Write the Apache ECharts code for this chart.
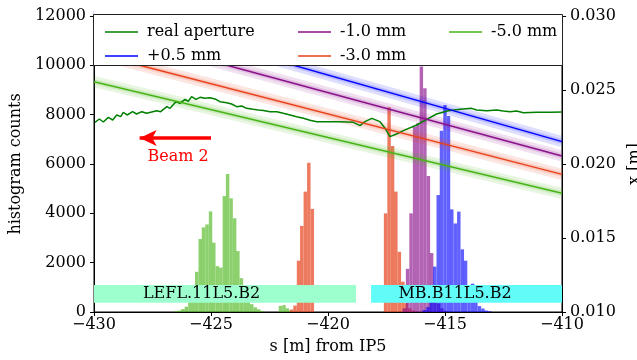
<!DOCTYPE html>
<html>
<head>
<meta charset="utf-8">
<script src="https://cdn.jsdelivr.net/npm/echarts@6/dist/echarts.min.js"></script>
<style>
  html, body { margin: 0; padding: 0; background: #fff; }
  #chart { width: 637px; height: 360px; }
</style>
</head>
<body>
<div id="chart"></div>
<script>
// 直方图数据 [s, counts]
const BIN = 0.147;
const histGreen = [
  [-426.49, 30], [-426.35, 60], [-426.20, 120], [-426.05, 215], [-425.90, 420], [-425.76, 900],
  [-425.61, 1630], [-425.46, 2960], [-425.32, 3430], [-425.17, 3550], [-425.02, 4080], [-424.88, 2810],
  [-424.73, 1860], [-424.58, 1800], [-424.43, 4700], [-424.29, 5590], [-424.14, 4610], [-423.99, 3800],
  [-423.85, 2470], [-423.70, 1370], [-423.55, 900], [-423.41, 550], [-423.26, 320], [-423.11, 190],
  [-422.96, 110], [-422.82, 40],
  [-422.03, 250], [-421.88, 280], [-421.74, 150], [-421.59, 50]
];
const histRed = [
  [-421.56, 100], [-421.41, 260], [-421.26, 2080], [-421.12, 3490], [-420.97, 4880], [-420.82, 6050], [-420.67, 4180],
  [-417.54, 4000], [-417.39, 8300], [-417.24, 6730], [-417.10, 4880], [-416.95, 2440], [-416.80, 1230],
  [-416.66, 360], [-416.51, 150], [-416.36, 60]
];
const histPurple = [
  [-416.74, 150], [-416.60, 1750], [-416.45, 4000], [-416.30, 7510], [-416.16, 7650], [-416.01, 9950],
  [-415.86, 9070], [-415.71, 5510], [-415.57, 2390], [-415.42, 1000], [-415.27, 350], [-415.13, 150], [-414.98, 50]
];
const histBlue = [
  [-415.88, 80], [-415.73, 200], [-415.59, 500], [-415.44, 1840], [-415.29, 4740], [-415.15, 7350],
  [-415.00, 8390], [-414.85, 7950], [-414.71, 4160], [-414.56, 3590], [-414.41, 4070], [-414.26, 2540],
  [-414.12, 2080], [-413.97, 1000], [-413.82, 1150], [-413.68, 600], [-413.53, 240], [-413.38, 140],
  [-413.24, 60], [-413.09, 30]
];

// 实际孔径 [s, x]
const realAperture = [
  [-429.96, 0.022818], [-429.77, 0.023041], [-429.60, 0.022838], [-429.39, 0.023153], [-429.20, 0.022973],
  [-429.03, 0.023311], [-428.86, 0.023198], [-428.75, 0.023491], [-428.58, 0.023311], [-428.35, 0.023536],
  [-428.18, 0.023378], [-427.96, 0.023536], [-427.75, 0.023424], [-427.49, 0.023536], [-427.32, 0.023603],
  [-427.15, 0.023536], [-426.89, 0.023874], [-426.75, 0.023761], [-426.50, 0.024212], [-426.33, 0.024099],
  [-426.11, 0.024369], [-425.97, 0.024234], [-425.83, 0.024549], [-425.64, 0.024369], [-425.47, 0.024505],
  [-425.26, 0.024437], [-425.04, 0.024482], [-424.79, 0.024369], [-424.62, 0.024212], [-424.33, 0.024144],
  [-424.12, 0.024054], [-423.90, 0.023874], [-423.69, 0.023919], [-423.48, 0.023761], [-423.19, 0.023694],
  [-422.98, 0.023649], [-422.76, 0.023620], [-422.48, 0.023536], [-422.19, 0.023536], [-421.91, 0.023424],
  [-421.62, 0.023311], [-421.34, 0.023198], [-421.05, 0.023086], [-420.77, 0.022951], [-420.48, 0.022860],
  [-419.92, 0.022860], [-419.49, 0.022860], [-418.92, 0.022816], [-418.63, 0.022590], [-418.42, 0.022860],
  [-418.13, 0.023086], [-417.78, 0.022860], [-417.56, 0.022410], [-417.35, 0.021847], [-417.07, 0.022027],
  [-416.78, 0.022252], [-416.21, 0.022635], [-415.78, 0.023018], [-415.36, 0.023378], [-414.86, 0.023603],
  [-414.36, 0.023694], [-413.86, 0.023761], [-413.65, 0.023649], [-413.22, 0.023603], [-412.79, 0.023649],
  [-412.51, 0.023581], [-412.22, 0.023536], [-411.94, 0.023581], [-411.65, 0.023468], [-411.08, 0.023491],
  [-410.51, 0.023491], [-410.01, 0.023514]
];

// 偏移轨迹 [s, x]
const lineP05 = [[-430, 0.03051], [-410, 0.02151]];
const lineM10 = [[-430, 0.02911], [-410, 0.02054]];
const lineM30 = [[-430, 0.02746], [-410, 0.01930]];
const lineM50 = [[-430, 0.02556], [-410, 0.01802]];

// 元件区域
const elementNames = ['LEFL.11L5.B2', 'MB.B11L5.B2'];
const elementStart = [-430, -418.16];
const elementEnd = [-418.80, -410];
const elementLabelAt = [-425.4, -414.57];
const elementLow = 370;
const elementHigh = 1095;

// 束流方向
const beamArrow = [[-425.0, 7050], [-428.05, 7050]];
const beamText = [-426.41, 6270];

const FONT = 'DejaVu Serif';
const elementColors = ['#9dffce', '#62fcf8'];

function minus(v) {
    return String(v).replace('-', '\u2212');
}

function histSeries(name, bins, color) {
    return {
        type: 'custom',
        name: name,
        xAxisIndex: 0,
        yAxisIndex: 0,
        z: 2,
        data: bins,
        encode: { x: 0, y: 1 },
        renderItem: function (params, api) {
            const s = api.value(0);
            const c = api.value(1);
            const a = api.coord([s - BIN / 2, c]);
            const b = api.coord([s + BIN / 2, 0]);
            return {
                type: 'rect',
                shape: { x: a[0], y: a[1], width: b[0] - a[0], height: b[1] - a[1] },
                style: { fill: color }
            };
        }
    };
}

function bandSeries(data, color) {
    return [
        { type: 'line', yAxisIndex: 1, data: data, symbol: 'none', z: 3, silent: true,
          lineStyle: { color: color, width: 11, opacity: 0.13 } },
        { type: 'line', yAxisIndex: 1, data: data, symbol: 'none', z: 3, silent: true,
          lineStyle: { color: color, width: 5, opacity: 0.15 } }
    ];
}

function lineSeries(name, data, color) {
    return { type: 'line', name: name, yAxisIndex: 1, data: data, symbol: 'none', z: 4,
             lineStyle: { color: color, width: 1.5 }, itemStyle: { color: color } };
}

const chart = echarts.init(document.getElementById('chart'));

const series = [
    histSeries('hist -5.0', histGreen, 'rgba(70,180,20,0.62)'),
    histSeries('hist -3.0', histRed, 'rgba(230,64,26,0.7)'),
    histSeries('hist -1.0', histPurple, 'rgba(139,16,139,0.65)'),
    histSeries('hist +0.5', histBlue, 'rgba(0,0,255,0.62)')
].concat(
    bandSeries(lineP05, '#0000ff'),
    bandSeries(lineM10, '#8b108b'),
    bandSeries(lineM30, '#e8401a'),
    bandSeries(lineM50, '#46b414')
).concat([
    lineSeries('real aperture', realAperture, '#008000'),
    lineSeries('+0.5 mm', lineP05, '#0000ff'),
    lineSeries('-1.0 mm', lineM10, '#8b108b'),
    lineSeries('-3.0 mm', lineM30, '#e8401a'),
    lineSeries('-5.0 mm', lineM50, '#46b414'),
    {
        type: 'line',
        name: 'annotations',
        yAxisIndex: 0,
        data: [],
        z: 6,
        silent: true,
        markArea: {
            silent: true,
            z: 5,
            data: elementNames.map((n, i) => [
                { xAxis: elementStart[i], yAxis: elementLow, itemStyle: { color: elementColors[i], opacity: 1 } },
                { xAxis: elementEnd[i], yAxis: elementHigh }
            ])
        },
        markPoint: {
            silent: true,
            z: 7,
            symbol: 'rect',
            symbolSize: 1,
            itemStyle: { color: 'rgba(0,0,0,0)' },
            label: { show: true, position: 'inside', fontFamily: FONT, fontSize: 16, color: '#000',
                     formatter: p => p.name },
            data: elementNames.map((n, i) => ({ name: n, coord: [elementLabelAt[i], (elementLow + elementHigh) / 2] }))
                .concat([{ name: 'Beam 2', coord: beamText, label: { color: '#ff0000' } }])
        },
        markLine: {
            silent: true,
            z: 7,
            symbol: ['none', 'arrow'],
            symbolSize: [12, 17],
            label: { show: false },
            lineStyle: { color: '#ff0000', width: 3.5, type: 'solid' },
            data: [[{ coord: beamArrow[0] }, { coord: beamArrow[1] }]]
        }
    }
]);

const legendCommon = {
    orient: 'vertical',
    top: 18,
    zlevel: 1,
    z: 20,
    icon: 'rect',
    itemWidth: 33,
    itemHeight: 1.5,
    itemGap: 6,
    textStyle: { fontFamily: FONT, fontSize: 16, color: '#000', lineHeight: 18, padding: [0, 0, 0, 4] }
};

const option = {
    animation: false,
    backgroundColor: '#fff',
    textStyle: { fontFamily: FONT },
    grid: { left: 94, right: 75, top: 16, bottom: 48, outerBoundsMode: 'none', containLabel: false,
            show: true, borderColor: '#000', borderWidth: 1 },
    legend: [
        Object.assign({ left: 100, data: ['real aperture', '+0.5 mm'] }, legendCommon),
        Object.assign({ left: 293, data: ['-1.0 mm', '-3.0 mm'] }, legendCommon),
        Object.assign({ left: 444, data: ['-5.0 mm'] }, legendCommon)
    ],
    graphic: [{
        // 遮住图框上方溢出的宽线
        type: 'rect',
        zlevel: 1,
        z: 9,
        shape: { x: 94.5, y: 0, width: 467, height: 15 },
        style: { fill: '#fff' }
    }, {
        type: 'rect',
        zlevel: 1,
        z: 10,
        shape: { x: 93.5, y: 14.5, width: 469, height: 51 },
        style: { fill: '#fff', stroke: '#222', lineWidth: 1 }
    }],
    xAxis: {
        type: 'value',
        min: -430,
        max: -410,
        interval: 5,
        name: 's [m] from IP5',
        nameLocation: 'middle',
        nameGap: 27,
        nameTextStyle: { fontFamily: FONT, fontSize: 16, color: '#000' },
        axisLine: { lineStyle: { color: '#000' } },
        axisTick: { length: 4, lineStyle: { color: '#000' } },
        axisLabel: { fontFamily: FONT, fontSize: 16, color: '#000', margin: 5, formatter: minus },
        splitLine: { show: false }
    },
    yAxis: [{
        type: 'value',
        min: 0,
        max: 12000,
        interval: 2000,
        name: 'histogram counts',
        nameLocation: 'middle',
        nameGap: 66,
        nameTextStyle: { fontFamily: FONT, fontSize: 16, color: '#000' },
        axisLine: { show: true, lineStyle: { color: '#000' } },
        axisTick: { show: true, length: 4, lineStyle: { color: '#000' } },
        axisLabel: { fontFamily: FONT, fontSize: 16, color: '#000', margin: 8, formatter: v => String(v) },
        splitLine: { show: false }
    }, {
        type: 'value',
        position: 'right',
        min: 0.010,
        max: 0.030,
        interval: 0.005,
        name: 'x [m]',
        nameLocation: 'middle',
        nameGap: 62,
        nameRotate: 90,
        nameTextStyle: { fontFamily: FONT, fontSize: 16, color: '#000' },
        axisLine: { show: true, lineStyle: { color: '#000' } },
        axisTick: { show: true, length: 4, lineStyle: { color: '#000' } },
        axisLabel: { fontFamily: FONT, fontSize: 16, color: '#000', margin: 8, formatter: v => v.toFixed(3) },
        splitLine: { show: false }
    }],
    series: series
};

chart.setOption(option);
</script>
</body>
</html>
